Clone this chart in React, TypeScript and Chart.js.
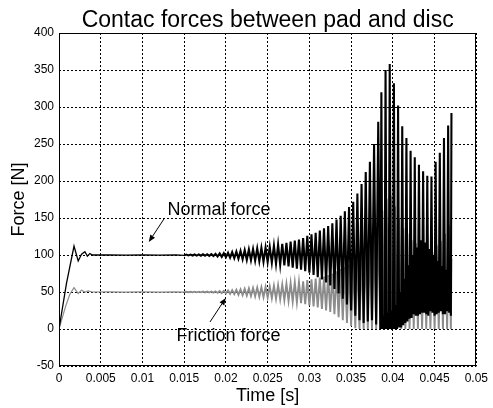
import React, { useEffect, useRef } from "react";
import { Chart, registerables } from "chart.js";

Chart.register(...registerables);

// ---------- data ----------
const chartTitle = "Contac forces between pad and disc";
const xTitle = "Time [s]";
const yTitle = "Force [N]";

const xTicks = [0, 0.005, 0.01, 0.015, 0.02, 0.025, 0.03, 0.035, 0.04, 0.045, 0.05];
const xTickLabels = ["0", "0.005", "0.01", "0.015", "0.02", "0.025", "0.03", "0.035", "0.04", "0.045", "0.05"];
const yTicks = [-50, 0, 50, 100, 150, 200, 250, 300, 350, 400];
const yTickLabels = ["-50", "0", "50", "100", "150", "200", "250", "300", "350", "400"];

// start-up transient
const normalTransientTime = [0, 0.0009, 0.0018, 0.0023, 0.0027, 0.0031, 0.0034, 0.0037, 0.004, 0.006, 0.008, 0.01, 0.012, 0.014];
const normalTransient = [0, 62, 112, 92, 101, 104.5, 98.5, 102, 100, 100.3, 99.8, 100.2, 99.8, 100.2];
const frictionTransientTime = [0, 0.0008, 0.0013, 0.0018, 0.0023, 0.0027, 0.0031, 0.0035, 0.004, 0.006, 0.008, 0.01, 0.012, 0.014];
const frictionTransient = [0, 31, 47, 56, 48, 52.5, 50, 51.5, 50, 50.2, 49.9, 50.1, 49.9, 50.1];

// oscillation: one entry per vibration cycle (start time of each cycle)
const cycleStart = [
  0.015, 0.0155, 0.016, 0.0165, 0.017, 0.0175, 0.018, 0.0185, 0.019, 0.0195,
  0.02, 0.0205, 0.021, 0.0215, 0.022, 0.0225, 0.023, 0.0235, 0.024, 0.0245,
  0.025, 0.0255, 0.026, 0.0265, 0.027, 0.0275, 0.028, 0.0285, 0.029, 0.0295,
  0.03, 0.0305, 0.031, 0.0315, 0.032, 0.0325, 0.033, 0.0335, 0.034, 0.0345,
  0.035, 0.0355, 0.036, 0.0365, 0.037, 0.0375, 0.038, 0.0385, 0.039, 0.0395,
  0.04, 0.0405, 0.041, 0.0415, 0.042, 0.0425, 0.043, 0.0435, 0.044, 0.0445,
  0.045, 0.0455, 0.046, 0.0465,
];
const normalPeak = [
  100.5, 100.6, 100.7, 100.8, 100.9, 101, 101.2, 101.5, 102, 102.5,
  103, 103.8, 104.5, 105.5, 106.5, 107.5, 108, 109, 109.5, 110,
  111, 112.5, 114, 115, 116.5, 118, 119.5, 121, 123, 126,
  128, 130, 133, 136, 139, 143, 148, 153, 159, 165,
  172, 183, 196, 212, 226, 250, 280, 320, 350, 358,
  332, 302, 274, 258, 241, 232, 222, 213, 207, 206,
  226, 238, 258, 275,
];
const normalTrough = [
  99.5, 99.4, 99.3, 99.2, 99.1, 99, 98.8, 98.5, 98, 97.5,
  97, 96.3, 95.6, 95, 94.2, 93.5, 93, 92.3, 91.6, 91,
  90.5, 89.5, 88, 87, 86, 84.5, 83, 81.5, 80, 78,
  76, 73, 70, 67, 63, 59, 54, 48, 41, 33,
  25, 18, 12, 8, 10, 12, 6, 0, 0, 0,
  0, 0, 2, 8, 14, 20, 18, 22, 20, 24,
  18, 22, 20, 24,
];
// late cycles carry a second, smaller swing inside each period
const innerFromCycle = 47;
const normalInnerTrough = [0, 0, 0, 0, 2, 5, 10, 15, 18, 20, 22, 18, 22, 20, 24, 20, 22];
const normalInnerPeak = [18, 22, 25, 32, 50, 68, 86, 100, 110, 120, 117, 108, 100, 92, 85, 80, 76];

const frictionPeak = [
  50.3, 50.3, 50.4, 50.4, 50.5, 50.6, 50.7, 50.9, 51.2, 51.5,
  52, 52.5, 53, 53.6, 54.2, 54.8, 55.3, 55.8, 56.3, 56.8,
  57.5, 58.3, 59.2, 60, 61, 62, 63, 63.5, 64.5, 66,
  67, 68, 69.5, 71, 73, 75, 78, 81, 84, 87,
  91, 96, 102, 110, 117, 128, 142, 160, 176, 180,
  166, 150, 136, 129, 120, 116, 111, 107, 104, 103,
  113, 119, 129, 140,
];
const frictionTrough = [
  49.7, 49.7, 49.6, 49.6, 49.5, 49.4, 49.3, 49.1, 48.8, 48.5,
  48, 47.5, 47, 46.4, 45.8, 45.2, 44.7, 44.2, 43.7, 43.2,
  42.5, 41.7, 40.8, 40, 39, 38, 37, 36, 35, 33.5,
  32, 30.5, 29, 27, 25, 23, 20, 16, 12, 8,
  4, 1, 0, 0, 0, 0, 0, 0, 0, 0,
  0, 0, 0, 0, 0, 0, 0, 0, 0, 0,
  0, 0, 0, 0,
];

const tailTime = [0.04695, 0.04702];
const normalTail = [18, 292];
const frictionTail = [0, 95];

// annotation text + arrows (data coordinates)
const annotationTexts = ["Normal force", "Friction force"];
const annotationAnchors = [
  [0.013, 160.8],
  [0.01407, -9.5],
];
const arrowFrom = [
  [0.01265, 150],
  [0.01809, 9.5],
];
const arrowTo = [
  [0.01076, 117.6],
  [0.01998, 41.9],
];

// ---------- build point tables ----------
const CYCLE = 0.0005;
const OSC_START = 0.015;

function buildNormal() {
  const pts: { x: number; y: number }[] = [];
  normalTransientTime.forEach((t, i) => pts.push({ x: t, y: normalTransient[i] }));
  cycleStart.forEach((t, k) => {
    if (k < innerFromCycle) {
      pts.push({ x: t, y: normalTrough[k] });
      pts.push({ x: t + CYCLE / 2, y: normalPeak[k] });
    } else {
      const j = k - innerFromCycle;
      pts.push({ x: t, y: normalTrough[k] });
      pts.push({ x: t + CYCLE / 4, y: normalPeak[k] });
      pts.push({ x: t + CYCLE / 2, y: normalInnerTrough[j] });
      pts.push({ x: t + (3 * CYCLE) / 4, y: normalInnerPeak[j] });
    }
  });
  tailTime.forEach((t, i) => pts.push({ x: t, y: normalTail[i] }));
  return pts;
}

function buildFriction() {
  const pts: { x: number; y: number }[] = [];
  frictionTransientTime.forEach((t, i) => pts.push({ x: t, y: frictionTransient[i] }));
  cycleStart.forEach((t, k) => {
    pts.push({ x: t, y: frictionTrough[k] });
    pts.push({ x: t + CYCLE / 2, y: frictionPeak[k] });
  });
  tailTime.forEach((t, i) => pts.push({ x: t, y: frictionTail[i] }));
  return pts;
}

const FONT = "'Liberation Sans', Arial, Helvetica, sans-serif";

// thinner stroke for the quiet start-up part, heavier for the dense oscillation
const segWidth = (thin: number, thick: number) => (ctx: any) =>
  ctx.p0.parsed.x < OSC_START ? thin : thick;

const framePlugin = {
  id: "frame",
  afterDatasetsDraw(chart: any) {
    const { ctx, chartArea } = chart;
    ctx.save();
    ctx.strokeStyle = "#000";
    ctx.lineWidth = 1;
    ctx.setLineDash([]);
    ctx.strokeRect(
      Math.round(chartArea.left) + 0.5,
      Math.round(chartArea.top) + 0.5,
      Math.round(chartArea.right - chartArea.left) - 1,
      Math.round(chartArea.bottom - chartArea.top) - 1
    );
    ctx.restore();
  },
};

const annotationPlugin = {
  id: "annotations",
  afterDraw(chart: any) {
    const { ctx, scales } = chart;
    const sx = scales.x;
    const sy = scales.y;
    ctx.save();
    ctx.fillStyle = "#000";
    ctx.strokeStyle = "#000";
    ctx.font = `18px ${FONT}`;
    ctx.textAlign = "left";
    ctx.textBaseline = "middle";
    annotationTexts.forEach((txt, i) => {
      ctx.fillText(txt, sx.getPixelForValue(annotationAnchors[i][0]), sy.getPixelForValue(annotationAnchors[i][1]));
      const x1 = sx.getPixelForValue(arrowFrom[i][0]);
      const y1 = sy.getPixelForValue(arrowFrom[i][1]);
      const x2 = sx.getPixelForValue(arrowTo[i][0]);
      const y2 = sy.getPixelForValue(arrowTo[i][1]);
      const ang = Math.atan2(y2 - y1, x2 - x1);
      const headLen = 7;
      const headW = 2.8;
      const bx = x2 - headLen * Math.cos(ang);
      const by = y2 - headLen * Math.sin(ang);
      ctx.lineWidth = 1;
      ctx.beginPath();
      ctx.moveTo(x1, y1);
      ctx.lineTo(bx, by);
      ctx.stroke();
      ctx.beginPath();
      ctx.moveTo(x2, y2);
      ctx.lineTo(bx + headW * Math.sin(ang), by - headW * Math.cos(ang));
      ctx.lineTo(bx - headW * Math.sin(ang), by + headW * Math.cos(ang));
      ctx.closePath();
      ctx.fill();
    });
    ctx.restore();
  },
};

export default function App() {
  const ref = useRef<HTMLCanvasElement | null>(null);

  useEffect(() => {
    if (!ref.current) return;
    const chart = new Chart(ref.current, {
      type: "line",
      data: {
        datasets: [
          {
            label: "Normal force",
            data: buildNormal(),
            borderColor: "#000000",
            borderWidth: 2,
            segment: { borderWidth: segWidth(1.3, 2.1) },
            pointRadius: 0,
            tension: 0,
            order: 0,
          },
          {
            label: "Friction force",
            data: buildFriction(),
            borderColor: "#8c8c8c",
            borderWidth: 1.8,
            segment: { borderWidth: segWidth(1.2, 1.9) },
            pointRadius: 0,
            tension: 0,
            order: 1,
          },
        ],
      },
      options: {
        animation: false,
        responsive: false,
        devicePixelRatio: 1,
        parsing: false,
        normalized: true,
        events: [],
        layout: { padding: { left: 0, right: 11, top: 0, bottom: 0 } },
        plugins: {
          legend: { display: false },
          tooltip: { enabled: false },
          title: {
            display: true,
            fullSize: false,
            text: chartTitle,
            color: "#000",
            font: { family: FONT, size: 23, weight: "normal", lineHeight: 1 },
            padding: { top: 9, bottom: 1 },
          },
        },
        scales: {
          x: {
            type: "linear",
            min: 0,
            max: 0.05,
            afterBuildTicks: (s: any) => {
              s.ticks = xTicks.map((v) => ({ value: v }));
            },
            afterFit: (s: any) => {
              s.height = 42;
            },
            ticks: {
              color: "#000",
              padding: 5,
              maxRotation: 0,
              autoSkip: false,
              font: { family: FONT, size: 12 },
              callback: (_v: any, i: number) => xTickLabels[i],
            },
            grid: { color: "#000", lineWidth: 1, drawTicks: false },
            border: { display: false, dash: [2, 2] },
            title: {
              display: true,
              text: xTitle,
              color: "#000",
              font: { family: FONT, size: 18, lineHeight: 1.2 },
              padding: { top: 0, bottom: 1.2 },
            },
          },
          y: {
            type: "linear",
            min: -50,
            max: 400,
            afterBuildTicks: (s: any) => {
              s.ticks = yTicks.map((v) => ({ value: v }));
            },
            afterFit: (s: any) => {
              s.width = 59;
            },
            ticks: {
              color: "#000",
              padding: 5,
              autoSkip: false,
              font: { family: FONT, size: 12 },
              callback: (_v: any, i: number) => yTickLabels[i],
            },
            grid: { color: "#000", lineWidth: 1, drawTicks: false },
            border: { display: false, dash: [2, 2] },
            title: {
              display: true,
              text: yTitle,
              color: "#000",
              font: { family: FONT, size: 18, lineHeight: 1.2 },
              padding: { top: 8, bottom: 0 },
            },
          },
        },
      },
      plugins: [framePlugin, annotationPlugin],
    } as any);
    return () => chart.destroy();
  }, []);

  return (
    <div style={{ position: "absolute", left: 0, top: 0, width: 493, height: 408, background: "#fff" }}>
      <canvas ref={ref} width={493} height={408} style={{ display: "block", width: 493, height: 408 }} />
    </div>
  );
}
